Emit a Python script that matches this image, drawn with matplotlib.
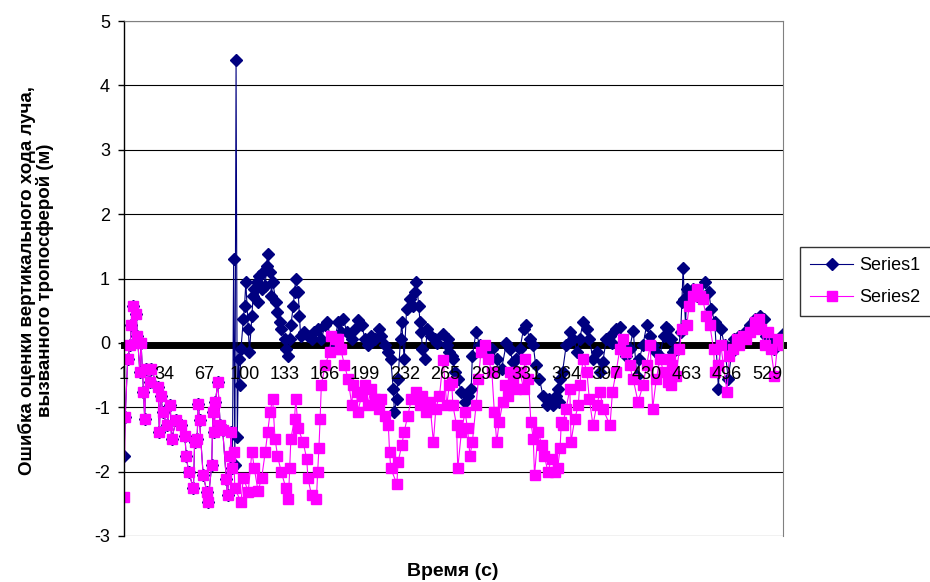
import matplotlib
matplotlib.use('Agg')
import matplotlib.pyplot as plt

plt.rcParams['font.family'] = ['Liberation Sans', 'DejaVu Sans']
plt.rcParams['axes.unicode_minus'] = False

# time index (category number) and values
t2 = [1, 2, 4, 6, 7, 8, 11, 12, 14, 15, 17, 18, 19, 22, 23, 29, 30, 31, 33, 36,
      39, 40, 44, 48, 51, 52, 54, 58, 59, 61, 62, 63, 66, 69, 70, 73, 74, 75, 76, 78,
      80, 82, 85, 86, 88, 89, 90, 91, 92, 97, 99, 103, 106, 108, 111, 114, 117, 119, 121, 123,
      125, 127, 130, 134, 136, 137, 138, 141, 142, 144, 148, 151, 152, 155, 159, 160, 161, 162, 163, 166,
      170, 171, 175, 177, 178, 179, 182, 185, 188, 189, 192, 193, 196, 199, 201, 204, 207, 210, 212, 215,
      218, 219, 220, 225, 226, 229, 231, 234, 237, 241, 244, 246, 249, 252, 255, 257, 260, 263, 266, 268,
      270, 271, 274, 275, 278, 281, 283, 285, 287, 290, 292, 294, 297, 300, 303, 305, 307, 309, 312, 314,
      316, 318, 320, 323, 326, 329, 330, 333, 335, 337, 338, 341, 344, 346, 349, 352, 355, 357, 359, 360,
      361, 364, 367, 368, 371, 374, 375, 378, 381, 383, 386, 389, 392, 394, 400, 402, 405, 408, 411, 413,
      416, 419, 423, 427, 430, 433, 435, 438, 441, 444, 448, 449, 450, 451, 454, 457, 459, 463, 465, 468,
      471, 474, 476, 479, 482, 485, 486, 489, 491, 496, 498, 501, 504, 506, 509, 512, 515, 519, 522, 524,
      527, 530, 532, 535, 538, 542]
s2 = [-2.39, -1.15, -0.25, -0.04, 0.27, 0.58, 0.45, 0.11, -0.45, 0.0, -0.76, -1.18, -0.40, -0.60, -0.40, -0.68, -1.38, -0.82, -1.07, -1.28,
      -0.97, -1.49, -1.20, -1.28, -1.44, -1.75, -2.00, -2.26, -1.54, -1.49, -0.95, -1.20, -2.06, -2.31, -2.47, -1.90, -1.07, -1.38, -0.92, -0.61,
      -1.28, -1.35, -2.11, -2.37, -1.75, -1.38, -1.95, -1.69, -2.26, -2.47, -2.10, -2.31, -1.69, -1.95, -2.30, -2.10, -1.69, -1.38, -1.07, -0.87,
      -1.49, -1.75, -2.00, -2.26, -2.42, -1.95, -1.49, -1.18, -0.87, -1.33, -1.54, -1.80, -2.10, -2.37, -2.42, -2.00, -1.64, -1.18, -0.66, -0.35,
      -0.14, 0.11, 0.06, 0.06, -0.10, -0.10, -0.35, -0.56, -0.97, -0.66, -0.76, -1.07, -0.82, -0.66, -0.97, -0.71, -0.87, -1.02, -0.87, -1.13,
      -1.28, -1.69, -1.95, -2.19, -1.85, -1.59, -1.38, -1.13, -0.87, -0.76, -0.97, -0.82, -1.07, -0.92, -1.54, -1.02, -0.82, -0.27, -0.97, -0.66,
      -0.61, -0.97, -1.28, -1.95, -1.38, -1.07, -1.33, -1.75, -1.54, -0.97, -0.56, -0.14, -0.04, -0.25, -0.45, -1.07, -1.54, -1.23, -0.92, -0.66,
      -0.82, -0.45, -0.56, -0.71, -0.45, -0.71, -0.25, -0.56, -1.23, -1.49, -2.06, -1.38, -1.59, -1.75, -2.00, -1.80, -2.00, -1.95, -1.64, -1.23,
      -1.28, -1.02, -0.71, -1.54, -1.18, -0.97, -0.66, -0.25, -0.45, -0.87, -1.28, -0.97, -0.76, -1.02, -1.28, -0.76, -0.45, -0.10, 0.06, -0.14,
      -0.35, -0.56, -0.92, -0.66, -0.35, -0.04, -1.02, -0.56, -0.25, -0.45, -0.61, -0.25, -0.66, -0.35, -0.51, -0.10, 0.22, 0.27, 0.58, 0.73,
      0.84, 0.73, 0.68, 0.42, 0.27, -0.10, -0.45, -0.35, -0.04, -0.76, -0.20, -0.10, 0.06, -0.04, 0.11, 0.06, 0.17, 0.32, 0.37, 0.22,
      -0.04, 0.17, -0.10, -0.51, 0.06, -0.04]

t1 = [1, 2, 4, 6, 7, 8, 11, 12, 14, 15, 17, 18, 19, 22, 23, 29, 30, 31, 33, 36,
      39, 40, 44, 48, 51, 52, 54, 58, 59, 61, 62, 63, 66, 69, 70, 73, 74, 75, 76, 78,
      80, 82, 85, 86, 88, 89, 90, 91, 92, 93, 94, 95, 96, 97, 99, 100, 101, 103, 104, 106,
      107, 108, 110, 111, 112, 114, 115, 117, 118, 119, 121, 122, 123, 126, 127, 129, 130, 133, 134, 136,
      137, 138, 140, 141, 142, 144, 145, 146, 149, 152, 155, 157, 160, 163, 166, 168, 172, 177, 179, 181,
      184, 188, 191, 193, 196, 199, 201, 204, 207, 210, 212, 215, 218, 220, 222, 223, 225, 226, 228, 229,
      231, 233, 236, 238, 240, 241, 243, 244, 245, 246, 248, 250, 253, 256, 258, 263, 266, 267, 268, 270,
      271, 273, 275, 278, 281, 283, 286, 287, 290, 293, 295, 300, 303, 307, 311, 315, 318, 320, 323, 326,
      329, 331, 334, 337, 339, 342, 345, 348, 350, 353, 356, 357, 358, 359, 361, 364, 367, 370, 373, 375,
      378, 381, 383, 386, 389, 392, 394, 397, 400, 402, 405, 408, 411, 413, 416, 419, 422, 424, 427, 430,
      433, 435, 438, 441, 444, 446, 448, 449, 450, 452, 453, 456, 458, 459, 460, 461, 462, 463, 465, 468,
      471, 475, 478, 481, 483, 486, 489, 491, 494, 497, 500, 502, 506, 511, 515, 519, 523, 526, 528, 531,
      535, 539, 542]
s1 = [-1.75, -1.15, -0.25, -0.04, 0.27, 0.58, 0.45, 0.11, -0.45, 0.0, -0.76, -1.18, -0.40, -0.60, -0.40, -0.68, -1.38, -0.82, -1.07, -1.28,
      -0.97, -1.49, -1.20, -1.28, -1.44, -1.75, -2.00, -2.26, -1.54, -1.49, -0.95, -1.20, -2.06, -2.31, -2.47, -1.90, -1.07, -1.38, -0.92, -0.61,
      -1.28, -1.35, -2.11, -2.37, -1.75, -1.38, -1.95, 1.30, -1.90, 4.40, -1.46, -0.25, -0.66, -0.10, 0.37, 0.58, 0.94, 0.22, -0.14, 0.42,
      0.73, 0.84, 0.94, 0.63, 1.04, 0.84, 1.10, 0.89, 1.20, 1.38, 1.10, 0.73, 0.94, 0.63, 0.48, 0.32, 0.22, 0.06, -0.10, -0.20,
      0.06, 0.27, 0.58, 0.79, 1.00, 0.79, 0.42, 0.11, 0.17, 0.11, 0.06, 0.17, 0.22, 0.06, 0.27, 0.32, -0.10, 0.32, 0.17, 0.37,
      0.17, 0.06, 0.22, 0.35, 0.27, 0.06, -0.04, 0.11, 0.06, 0.22, 0.11, -0.04, -0.14, -0.25, -0.71, -1.07, -0.87, -0.56, 0.06, 0.32,
      -0.25, 0.53, 0.68, 0.58, 0.79, 0.94, 0.58, 0.32, 0.17, -0.10, -0.25, 0.22, 0.11, 0.06, 0.00, 0.14, -0.04, 0.06, -0.14, -0.20,
      -0.25, -0.45, -0.56, -0.76, -0.92, -0.82, -0.71, -0.20, 0.17, -0.04, -0.10, -0.10, -0.10, -0.25, -0.40, 0.00, -0.10, -0.30, -0.25, -0.10,
      0.22, 0.27, 0.06, -0.04, -0.35, -0.56, -0.82, -0.97, -0.87, -0.97, -0.82, -0.71, -0.92, -0.56, -0.45, -0.04, 0.17, 0.06, -0.14, 0.06,
      0.32, 0.22, 0.06, -0.25, -0.14, -0.45, -0.30, 0.06, 0.11, 0.00, 0.22, 0.25, -0.04, -0.20, -0.10, 0.19, -0.51, -0.25, -0.04, 0.27,
      0.11, -0.04, -0.14, -0.20, 0.11, 0.25, 0.22, 0.06, 0.06, -0.14, -0.10, -0.10, 0.17, 0.63, 1.17, 0.68, 0.27, 0.84, 0.79, 0.84,
      0.73, 0.73, 0.94, 0.79, 0.53, 0.32, -0.71, 0.22, -0.04, -0.56, -0.14, 0.06, 0.11, 0.17, 0.27, 0.37, 0.42, 0.37, 0.11, 0.06,
      -0.10, 0.06, 0.14]

x_ticks = [1, 34, 67, 100, 133, 166, 199, 232, 265, 298, 331, 364, 397, 430, 463, 496, 529]
y_ticks = [-3, -2, -1, 0, 1, 2, 3, 4, 5]

fig = plt.figure(figsize=(9.3, 5.82), dpi=100)
ax = fig.add_axes([124 / 930, 1 - 536 / 582, 659 / 930, 515 / 582])

ax.set_xlim(1, 542)
ax.set_ylim(-3, 5)
ax.set_axisbelow(False)  # category labels sit on top of the markers, like excel

# grid + frame like the excel chart
for y in y_ticks:
    ax.axhline(y, color='black', lw=0.8, zorder=1)
ax.spines['top'].set_color('#808080')
ax.spines['right'].set_color('#808080')
ax.spines['left'].set_color('black')
ax.spines['left'].set_linewidth(1.0)
ax.spines['bottom'].set_position(('data', -0.04))
ax.spines['bottom'].set_linewidth(5)
ax.spines['bottom'].set_zorder(1.8)

ax.plot(t1, s1, color='#000080', lw=0.8, marker='D', ms=6.5, label='Series1', zorder=2.1)
ax.plot(t2, s2, color='#FF00FF', lw=0.8, marker='s', ms=6.5, label='Series2', zorder=2.2)

ax.set_xticks(x_ticks)
ax.set_xticklabels([str(v) for v in x_ticks])
ax.tick_params(axis='x', length=0, pad=15, labelsize=13)
ax.set_yticks(y_ticks)
ax.tick_params(axis='y', direction='out', length=4, width=1, pad=6, labelsize=13)

fig.text(36 / 930, 1 - 280 / 582,
         'Ошибка оценки вертикального хода луча,\nвызванного тропосферой (м)',
         rotation=90, ha='center', va='center', fontsize=13.5, fontweight='bold',
         linespacing=1.02)
fig.text(453 / 930, 1 - 572 / 582, 'Время (с)', ha='center', va='center',
         fontsize=14, fontweight='bold')

leg = fig.legend(loc='upper left', bbox_to_anchor=(800 / 930, 1 - 247 / 582),
                 fontsize=13, frameon=True, fancybox=False, edgecolor='black',
                 handlelength=2.4, handletextpad=0.35, borderpad=0.55,
                 labelspacing=0.85, borderaxespad=0)
leg.get_frame().set_linewidth(1.0)

fig.savefig('out.png', dpi=100)
